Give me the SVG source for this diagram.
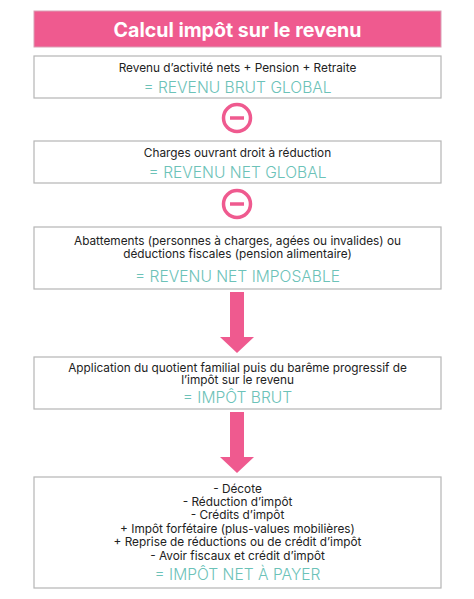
<svg xmlns="http://www.w3.org/2000/svg" width="474" height="599" viewBox="0 0 474 599">
<style>
.box{fill:#fff;stroke:#b5b5b5;stroke-width:1.2}
.t{font-family:Inter,"Open Sans","Liberation Sans",sans-serif;font-size:11.8px;fill:#222;text-anchor:middle}
.r{font-family:Inter,"Open Sans","Liberation Sans",sans-serif;font-size:15.6px;font-weight:300;fill:#6cc2b8;text-anchor:middle}
.pink{fill:#ef5a8f}
.minus{fill:none;stroke:#ef5a8f;stroke-width:3.5}
</style>
<rect width="474" height="599" fill="#fff"/>
<g id="title">
<rect x="34" y="11" width="407" height="36" class="pink" stroke="#d9a0b5" stroke-width="1"/>
<text x="237.5" y="36.5" font-family="Inter,'Open Sans','Liberation Sans',sans-serif" font-size="19.6" font-weight="bold" fill="#fff" text-anchor="middle">Calcul impôt sur le revenu</text>
</g>
<g id="box1">
<rect x="34" y="56" width="407" height="42" class="box"/>
<text x="237.5" y="72" class="t">Revenu d’activité nets + Pension + Retraite</text>
<text x="237.5" y="92.5" class="r">= REVENU BRUT GLOBAL</text>
</g>
<g id="box2">
<rect x="34" y="141" width="407" height="42" class="box"/>
<text x="237.5" y="157" class="t">Charges ouvrant droit à réduction</text>
<text x="237.5" y="177.5" class="r">= REVENU NET GLOBAL</text>
</g>
<g id="box3">
<rect x="34" y="227" width="407" height="62" class="box"/>
<text x="237.5" y="245" class="t">Abattements (personnes à charges, agées ou invalides) ou</text>
<text x="237.5" y="257.5" class="t">déductions fiscales (pension alimentaire)</text>
<text x="237.5" y="281.5" class="r">= REVENU NET IMPOSABLE</text>
</g>
<g id="box4">
<rect x="34" y="357" width="407" height="52" class="box"/>
<text x="237.5" y="371.5" class="t">Application du quotient familial puis du barême progressif de</text>
<text x="237.5" y="384" class="t">l’impôt sur le revenu</text>
<text x="237.5" y="402.5" class="r">= IMPÔT BRUT</text>
</g>
<g id="box5">
<rect x="34" y="477" width="407" height="111" class="box"/>
<text x="237.5" y="492.5" class="t">- Décote</text>
<text x="237.5" y="505.5" class="t">- Réduction d’impôt</text>
<text x="237.5" y="519" class="t">- Crédits d’impôt</text>
<text x="237.5" y="532.5" class="t">+ Impôt forfétaire (plus-values mobilières)</text>
<text x="237.5" y="546" class="t">+ Reprise de réductions ou de crédit d’impôt</text>
<text x="237.5" y="560" class="t">- Avoir fiscaux et crédit d’impôt</text>
<text x="237.5" y="579.5" class="r">= IMPÔT NET À PAYER</text>
</g>
<g id="connectors">
<g id="minus1"><circle cx="237" cy="118" r="13.5" class="minus"/><line x1="230" y1="118" x2="244" y2="118" class="minus"/></g>
<g id="minus2"><circle cx="237" cy="204" r="13.5" class="minus"/><line x1="230" y1="204" x2="244" y2="204" class="minus"/></g>
<path class="pink" d="M230,292 H244 V337 H254 L237,353 L220,337 H230 Z"/>
<path class="pink" d="M230,412 H244 V457 H254 L237,473 L220,457 H230 Z"/>
</g>
</svg>
